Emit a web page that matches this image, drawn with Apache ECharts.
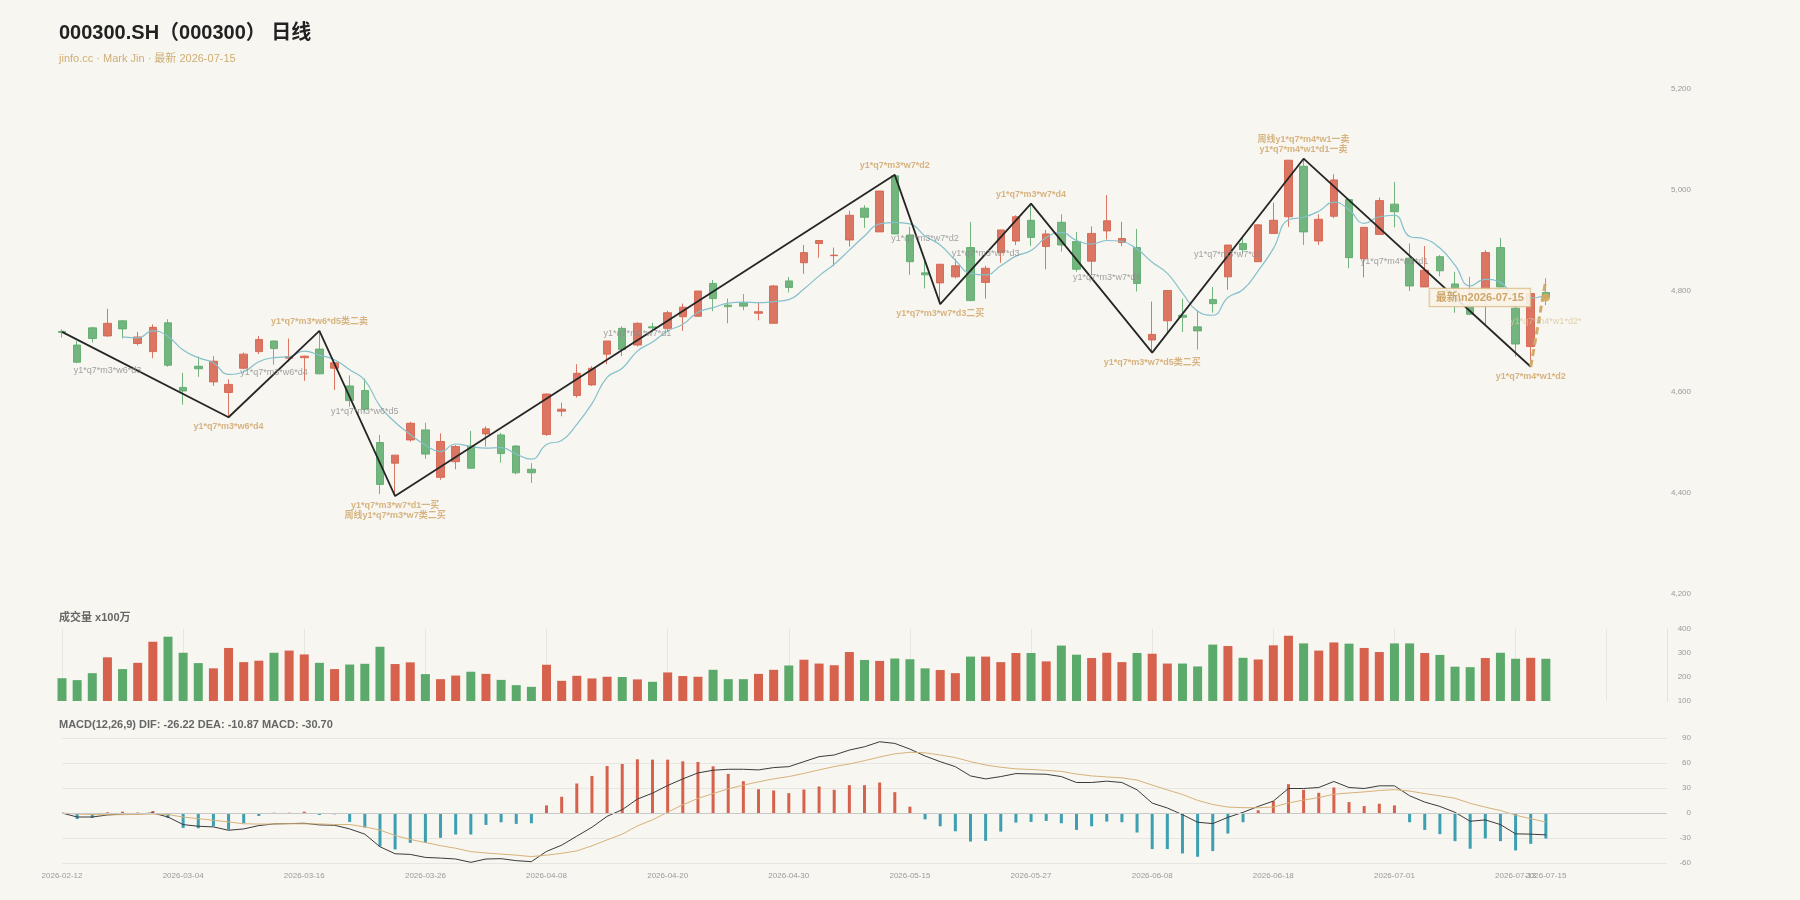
<!DOCTYPE html>
<html lang="zh-CN">
<head>
    <meta charset="UTF-8">
    <title>000300.SH 日线</title>
    <style>
        html, body { margin: 0; padding: 0; background: #f7f6f1; }
        #main { width: 1800px; height: 900px; }
    </style>
</head>
<body>
<div id="main"></div>
<script src="https://cdn.jsdelivr.net/npm/echarts@6/dist/echarts.min.js"></script>
<script>
    // 交易日
    const dates = [
        '2026-02-12', '2026-02-13', '2026-02-24', '2026-02-25', '2026-02-26', '2026-02-27', '2026-03-02', '2026-03-03',
        '2026-03-04', '2026-03-05', '2026-03-06', '2026-03-09', '2026-03-10', '2026-03-11', '2026-03-12', '2026-03-13',
        '2026-03-16', '2026-03-17', '2026-03-18', '2026-03-19', '2026-03-20', '2026-03-23', '2026-03-24', '2026-03-25',
        '2026-03-26', '2026-03-27', '2026-03-30', '2026-03-31', '2026-04-01', '2026-04-02', '2026-04-03', '2026-04-07',
        '2026-04-08', '2026-04-09', '2026-04-10', '2026-04-13', '2026-04-14', '2026-04-15', '2026-04-16', '2026-04-17',
        '2026-04-20', '2026-04-21', '2026-04-22', '2026-04-23', '2026-04-24', '2026-04-27', '2026-04-28', '2026-04-29',
        '2026-04-30', '2026-05-06', '2026-05-07', '2026-05-08', '2026-05-11', '2026-05-12', '2026-05-13', '2026-05-14',
        '2026-05-15', '2026-05-18', '2026-05-19', '2026-05-20', '2026-05-21', '2026-05-22', '2026-05-25', '2026-05-26',
        '2026-05-27', '2026-05-28', '2026-05-29', '2026-06-01', '2026-06-02', '2026-06-03', '2026-06-04', '2026-06-05',
        '2026-06-08', '2026-06-09', '2026-06-10', '2026-06-11', '2026-06-12', '2026-06-15', '2026-06-16', '2026-06-17',
        '2026-06-18', '2026-06-22', '2026-06-23', '2026-06-24', '2026-06-25', '2026-06-26', '2026-06-29', '2026-06-30',
        '2026-07-01', '2026-07-02', '2026-07-03', '2026-07-06', '2026-07-07', '2026-07-08', '2026-07-09', '2026-07-10',
        '2026-07-13', '2026-07-14', '2026-07-15'
    ];
    // 右侧留白的空类目
    const blankSlots = 8;

    // K线 开 收 低 高
    const opens = [
        4720, 4693, 4727, 4711, 4741, 4696, 4680, 4737, 4609, 4651, 4620, 4599, 4647, 4680, 4701, 4667, 4668, 4685, 4647, 4612,
        4603, 4500, 4459, 4505, 4525, 4431, 4462, 4493, 4517, 4515, 4493, 4447, 4516, 4562, 4593, 4614, 4675, 4726, 4693, 4729,
        4726, 4749, 4750, 4815, 4772, 4777, 4756, 4736, 4820, 4856, 4894, 4870, 4901, 4964, 4917, 5028, 4911, 4836, 4816, 4828,
        4886, 4817, 4876, 4899, 4940, 4888, 4936, 4898, 4859, 4919, 4896, 4886, 4703, 4741, 4752, 4729, 4783, 4828, 4894, 4858,
        4914, 4947, 5047, 4899, 4948, 4981, 4864, 4912, 4972, 4865, 4808, 4868, 4814, 4772, 4802, 4886, 4766, 4690, 4797
    ];
    const closes = [
        4718, 4659, 4706, 4736, 4725, 4709, 4728, 4653, 4602, 4646, 4661, 4615, 4675, 4704, 4686, 4670, 4671, 4636, 4658, 4583,
        4566, 4417, 4475, 4538, 4477, 4502, 4492, 4449, 4527, 4478, 4440, 4440, 4596, 4566, 4637, 4647, 4701, 4684, 4736, 4727,
        4757, 4768, 4800, 4785, 4769, 4770, 4759, 4810, 4807, 4876, 4900, 4871, 4950, 4946, 4998, 4913, 4858, 4832, 4853, 4850,
        4781, 4845, 4921, 4947, 4906, 4913, 4891, 4843, 4914, 4939, 4904, 4815, 4714, 4801, 4748, 4721, 4775, 4891, 4882, 4931,
        4940, 5059, 4917, 4942, 5020, 4866, 4926, 4979, 4957, 4810, 4841, 4840, 4805, 4754, 4876, 4808, 4695, 4795, 4787
    ];
    const lows = [
        4708, 4657, 4698, 4709, 4706, 4692, 4667, 4650, 4575, 4630, 4612, 4550, 4645, 4675, 4654, 4660, 4622, 4635, 4604, 4571,
        4561, 4398, 4394, 4502, 4468, 4426, 4447, 4448, 4492, 4460, 4437, 4420, 4513, 4552, 4589, 4612, 4655, 4671, 4690, 4719,
        4719, 4721, 4749, 4760, 4736, 4762, 4742, 4736, 4797, 4834, 4866, 4849, 4888, 4925, 4917, 4912, 4832, 4805, 4774, 4825,
        4780, 4785, 4856, 4891, 4889, 4843, 4878, 4838, 4831, 4902, 4889, 4799, 4678, 4715, 4719, 4684, 4757, 4802, 4874, 4858,
        4914, 4927, 4891, 4891, 4944, 4845, 4827, 4912, 4926, 4800, 4808, 4829, 4757, 4752, 4734, 4808, 4670, 4650, 4772
    ];
    const highs = [
        4724, 4701, 4729, 4765, 4742, 4719, 4734, 4744, 4638, 4670, 4671, 4625, 4678, 4711, 4702, 4706, 4672, 4721, 4658, 4633,
        4627, 4515, 4475, 4541, 4539, 4518, 4495, 4523, 4532, 4519, 4495, 4459, 4597, 4579, 4655, 4651, 4701, 4730, 4738, 4737,
        4761, 4775, 4800, 4822, 4785, 4794, 4777, 4812, 4828, 4891, 4901, 4886, 4959, 4970, 4998, 5030, 4927, 4864, 4853, 4864,
        4937, 4850, 4921, 4950, 4973, 4921, 4952, 4917, 4928, 4990, 4937, 4923, 4779, 4802, 4785, 4762, 4808, 4891, 4907, 4932,
        4975, 5059, 5062, 4952, 5031, 4981, 4926, 4985, 5016, 4894, 4889, 4871, 4838, 4828, 4881, 4905, 4769, 4795, 4825
    ];
    // MA5，前4日无值
    const ma5 = [
        '-', '-', '-', '-',
        4709, 4707, 4721, 4710, 4683, 4668, 4658, 4635, 4640, 4660,
        4668, 4670, 4681, 4673, 4664, 4644, 4623, 4572, 4540, 4516,
        4495, 4482, 4497, 4492, 4489, 4490, 4477, 4467, 4496, 4504,
        4536, 4577, 4629, 4647, 4681, 4699, 4721, 4734, 4758, 4767,
        4776, 4778, 4777, 4779, 4783, 4804, 4830, 4853, 4881, 4909,
        4933, 4936, 4933, 4909, 4891, 4861, 4835, 4832, 4850, 4869,
        4880, 4906, 4916, 4900, 4893, 4900, 4898, 4883, 4857, 4835,
        4796, 4760, 4752, 4787, 4803, 4840, 4884, 4941, 4946, 4958,
        4976, 4961, 4934, 4947, 4950, 4908, 4903, 4885, 4851, 4810,
        4823, 4817, 4788, 4786, 4792
    ];
    // 成交量 x100万
    const volumes = [
        195, 187, 216, 282, 233, 259, 347, 368, 301, 258, 236, 321, 262, 268, 301, 310, 294, 259, 233, 252,
        255, 326, 254, 261, 212, 191, 206, 222, 213, 188, 166, 159, 251, 184, 205, 194, 201, 200, 190, 180,
        219, 204, 201, 230, 191, 191, 213, 230, 248, 272, 256, 249, 304, 271, 267, 277, 274, 236, 229, 216,
        285, 285, 262, 300, 300, 265, 331, 293, 279, 301, 262, 300, 297, 256, 256, 244, 335, 329, 280, 273,
        332, 372, 340, 310, 344, 339, 321, 304, 340, 340, 300, 292, 243, 241, 279, 301, 276, 280, 276
    ];
    // MACD
    const dif = [
        0, -4.8, -4.8, -2.4, -1.2, -1.2, 0, -4.8, -13.9, -15.9, -16.7, -20.7, -19.1, -15.1, -13.1, -12.7, -12.3, -14.3, -14.7, -19.1,
        -25.4, -40.5, -48.9, -49.7, -53.3, -54.1, -55.2, -59.2, -55.2, -54.8, -57.2, -58.4, -46.1, -38.6, -27.8, -17.1, -4, 4, 16.7, 23.8,
        33, 40.9, 48.1, 51.3, 52.5, 52.5, 51.7, 54.5, 55.6, 61.6, 67.6, 69.6, 75.5, 79.5, 85.5, 83.5, 76.7, 68.4, 61.6, 55.6,
        44.5, 40.9, 43.7, 47.3, 46.9, 46.5, 43.7, 36.6, 36.6, 38.2, 36.6, 27.8, 11.9, 6, -2, -11.1, -12.7, -5.2, 0.8, 7.9,
        14.3, 29.4, 29.4, 30.6, 37.8, 30.6, 29.4, 32.6, 32.6, 20.7, 13.1, 7.9, 0.8, -9.9, -8.3, -13.9, -25, -25.4, -26.22
    ];
    const dea = [
        0, -1.2, -1.8, -2.2, -2.0, -1.6, -1.2, -1.8, -4.9, -6.8, -8.7, -10.7, -12.9, -13.3, -13.2, -12.9, -13.1, -13.1, -13.9, -13.8,
        -16.7, -20.5, -27, -31.8, -35.4, -39.2, -42.3, -46.3, -48, -49.3, -50.6, -52.3, -50.6, -48.4, -45.5, -39.4, -32.2, -25.4, -15.5, -8.2,
        1, 9.9, 17.5, 23.3, 29, 33.4, 37.4, 41, 43.7, 47.5, 51.7, 55.7, 58.8, 62.8, 67.2, 71, 72.9, 72.2, 69.6, 66.5,
        61.6, 57.6, 54.9, 53, 52.2, 51.2, 49.9, 46.8, 44.5, 43.3, 42.2, 39.5, 33.5, 27.7, 22.2, 15.2, 10.2, 7.1, 6.4, 6.3,
        7.2, 12.1, 15.5, 18.5, 22.5, 24, 25.3, 27, 28, 26.3, 23.3, 20.6, 17.7, 11.6, 7, 3, -2.6, -6.9, -10.87
    ];
    const macdBar = [
        0, -7.2, -6, 0.8, 1.6, 0.5, 2.4, -6, -17.9, -18.3, -15.9, -19.9, -12.3, -3.6, 0.3, 0.4, 1.6, -2.4, -1.6, -10.7,
        -17.5, -40.1, -43.7, -35.8, -35.8, -29.8, -25.8, -25.8, -14.3, -11.1, -13.1, -12.3, 9.1, 19.5, 35.4, 44.5, 56.4, 58.8, 64.4, 64,
        64, 62, 61.2, 56, 46.9, 38.2, 28.6, 27, 23.8, 28.2, 31.8, 27.8, 33.4, 33.4, 36.6, 25, 7.6, -7.6, -15.9, -21.9,
        -34.2, -33.4, -22.3, -11.5, -10.7, -9.5, -12.3, -20.3, -15.9, -10.3, -11.1, -23.4, -43.3, -43.3, -48.5, -52.5, -45.7, -24.6, -11.1, 3.2,
        14.3, 34.6, 27.8, 24.2, 30.6, 13.1, 8.3, 11.1, 9.1, -11.1, -20.3, -25.4, -33.8, -42.9, -30.6, -33.8, -44.9, -37, -30.7
    ];

    // 笔：转折点 [序号, 价格]
    const strokes = [[0, 4719], [11, 4550], [17, 4721], [22, 4394], [55, 5030], [58, 4774], [64, 4973], [72, 4678], [82, 5062], [97, 4650]];
    // 未完成的一笔
    const pendingStroke = [[97, 4650], [98, 4822]];
    // 转折点标注（对应 strokes 的第1..9个点）
    const pivotNames = [
        'y1*q7*m3*w6*d4',
        'y1*q7*m3*w6*d5类二卖',
        'y1*q7*m3*w7*d1一买\n周线y1*q7*m3*w7类二买',
        'y1*q7*m3*w7*d2',
        'y1*q7*m3*w7*d3二买',
        'y1*q7*m3*w7*d4',
        'y1*q7*m3*w7*d5类二买',
        '周线y1*q7*m4*w1一卖\ny1*q7*m4*w1*d1一卖',
        'y1*q7*m4*w1*d2'
    ];
    // 每一笔的名称 [序号, 价格, 名称]
    const strokeNames = [
        [3, 4643, 'y1*q7*m3*w6*d3'],
        [13.9, 4638, 'y1*q7*m3*w6*d4'],
        [19.9, 4561, 'y1*q7*m3*w6*d5'],
        [37.9, 4715, 'y1*q7*m3*w7*d1'],
        [56.9, 4904, 'y1*q7*m3*w7*d2'],
        [61, 4875, 'y1*q7*m3*w7*d3'],
        [69, 4827, 'y1*q7*m3*w7*d4'],
        [76.9, 4872, 'y1*q7*m3*w7*d5'],
        [87.9, 4858, 'y1*q7*m4*w1*d1']
    ];
    const pendingName = [97.9, 4740, 'y1*q7*m4*w1*d2*'];

    const UP = '#d6614c';
    const DOWN = '#5caa6b';
    const MACD_DOWN = '#3d9fb2';
    const GOLD = '#cfa264';
    const FONT = "'Liberation Sans', 'Noto Sans CJK SC', sans-serif";

    const last = dates.length - 1;
    const categories = dates.concat(new Array(blankSlots).fill(''));
    const kData = dates.map((d, i) => [opens[i], closes[i], lows[i], highs[i]]);
    const volData = volumes.map((v, i) => ({
        value: v,
        itemStyle: {color: closes[i] >= opens[i] ? UP : DOWN}
    }));
    const macdData = macdBar.map(v => ({value: v, itemStyle: {color: v >= 0 ? UP : MACD_DOWN}}));

    const pivotData = pivotNames.map((name, k) => {
        let p = strokes[k + 1];
        let isHigh = p[1] > strokes[k][1];
        return {
            value: [p[0], p[1]],
            name: name,
            label: {position: isHigh ? 'top' : 'bottom'}
        };
    });

    const axisText = {color: '#9a9a9a', fontSize: 8, fontFamily: FONT};

    let xAxisBase = (gi) => ({
        type: 'category',
        gridIndex: gi,
        data: categories,
        boundaryGap: false,
        axisLine: {show: false},
        axisTick: {show: false},
        axisLabel: {show: false},
        splitLine: {show: false}
    });

    let xVol = xAxisBase(1);
    xVol.splitLine = {
        show: true,
        interval: (i) => (i % 8 === 0 && i <= 96) || i === 102,
        lineStyle: {color: '#e7e5e0', width: 1}
    };
    let xMacd = xAxisBase(2);
    xMacd.axisLabel = Object.assign({
        show: true,
        margin: 9,
        interval: (i) => i % 8 === 0 || i === last
    }, axisText);

    let myChart = echarts.init(document.getElementById('main'), null, {renderer: 'canvas'});
    let option = {
        backgroundColor: '#f7f6f1',
        animation: false,
        textStyle: {fontFamily: FONT},
        title: [
            {
                text: '000300.SH（000300） 日线',
                subtext: 'jinfo.cc · Mark Jin · 最新 ' + dates[last],
                left: 59, top: 23, padding: 0, itemGap: 10,
                textStyle: {fontSize: 20, fontWeight: 'bold', color: '#222', fontFamily: FONT},
                subtextStyle: {fontSize: 11, color: '#cfae76', fontFamily: FONT}
            },
            {
                text: '成交量 x100万',
                left: 59, top: 612, padding: 0,
                textStyle: {fontSize: 11, fontWeight: 'bold', color: '#666', fontFamily: FONT}
            },
            {
                text: 'MACD(12,26,9) DIF: ' + dif[last].toFixed(2) + ' DEA: ' + dea[last].toFixed(2) +
                    ' MACD: ' + macdBar[last].toFixed(2),
                left: 59, top: 719, padding: 0,
                textStyle: {fontSize: 11, fontWeight: 'bold', color: '#666', fontFamily: FONT}
            }
        ],
        grid: [
            {left: 62, right: 133, top: 89, height: 505},
            {left: 62, right: 133, top: 629, height: 72},
            {left: 62, right: 133, top: 738, height: 125}
        ],
        xAxis: [xAxisBase(0), xVol, xMacd],
        yAxis: [
            {
                gridIndex: 0, position: 'right', min: 4200, max: 5200, interval: 200,
                axisLine: {show: false}, axisTick: {show: false}, splitLine: {show: false},
                axisLabel: Object.assign({align: 'right', margin: 24}, axisText)
            },
            {
                gridIndex: 1, position: 'right', min: 100, max: 400, interval: 100,
                axisLine: {show: true, lineStyle: {color: '#e4e2dd'}}, axisTick: {show: false}, splitLine: {show: false},
                axisLabel: Object.assign({align: 'right', margin: 24}, axisText)
            },
            {
                gridIndex: 2, position: 'right', min: -60, max: 90, interval: 30,
                axisLine: {show: false}, axisTick: {show: false},
                splitLine: {show: true, lineStyle: {color: '#e8e6e1'}},
                axisLabel: Object.assign({align: 'right', margin: 24}, axisText)
            }
        ],
        series: [
            {
                name: 'K线', type: 'candlestick', xAxisIndex: 0, yAxisIndex: 0,
                data: kData, barWidth: 8,
                itemStyle: {color: UP, color0: DOWN, borderColor: UP, borderColor0: DOWN, opacity: 0.86}
            },
            {
                name: 'MA5', type: 'line', xAxisIndex: 0, yAxisIndex: 0,
                data: ma5, smooth: true, symbol: 'none',
                lineStyle: {color: '#84c0cb', width: 1.2}
            },
            {
                name: '笔', type: 'line', xAxisIndex: 0, yAxisIndex: 0,
                data: strokes, symbol: 'none', z: 5,
                lineStyle: {color: '#262626', width: 1.8}
            },
            {
                name: '未完成', type: 'line', xAxisIndex: 0, yAxisIndex: 0,
                data: pendingStroke, symbol: 'none', z: 5,
                lineStyle: {color: '#d2aa6a', width: 3, type: [7, 4]}
            },
            {
                name: '笔名', type: 'scatter', xAxisIndex: 0, yAxisIndex: 0,
                symbolSize: 1, itemStyle: {color: 'rgba(0,0,0,0)'}, z: 6, silent: true,
                data: strokeNames.map(s => ({value: [s[0], s[1]], name: s[2]})).concat([{
                    value: [pendingName[0], pendingName[1]], name: pendingName[2],
                    label: {color: '#dcc79c'}
                }]),
                label: {show: true, position: 'inside', formatter: '{b}', color: '#8b8b8b', fontSize: 9, fontFamily: FONT}
            },
            {
                name: '转折', type: 'scatter', xAxisIndex: 0, yAxisIndex: 0,
                symbolSize: 1, itemStyle: {color: 'rgba(0,0,0,0)'}, z: 6, silent: true,
                data: pivotData,
                label: {
                    show: true, formatter: '{b}', distance: 4, color: GOLD,
                    fontSize: 9, lineHeight: 10, fontWeight: 'bold', fontFamily: FONT
                }
            },
            {
                name: '最新', type: 'scatter', xAxisIndex: 0, yAxisIndex: 0,
                data: [[last, closes[last]]], symbolSize: 8, z: 7,
                itemStyle: {color: '#d3a862', opacity: 0.9},
                label: {
                    show: true, position: 'left', distance: 12,
                    formatter: '最新\\n' + dates[last],
                    color: '#c99c5a', fontSize: 11, fontWeight: 'bold', fontFamily: FONT,
                    backgroundColor: '#f8f3e8', borderColor: '#dcc493', borderWidth: 1.2,
                    padding: [3, 6]
                }
            },
            {
                name: '成交量', type: 'bar', xAxisIndex: 1, yAxisIndex: 1,
                data: volData, barWidth: 9
            },
            {
                name: 'MACD', type: 'bar', xAxisIndex: 2, yAxisIndex: 2,
                data: macdData, barWidth: 3,
                markLine: {
                    silent: true, symbol: ['none', 'none'], label: {show: false},
                    lineStyle: {color: '#c8c8c8', type: 'solid', width: 1},
                    data: [{yAxis: 0}]
                }
            },
            {
                name: 'DIF', type: 'line', xAxisIndex: 2, yAxisIndex: 2,
                data: dif, symbol: 'none', lineStyle: {color: '#3a3a3a', width: 1}
            },
            {
                name: 'DEA', type: 'line', xAxisIndex: 2, yAxisIndex: 2,
                data: dea, symbol: 'none', lineStyle: {color: '#d8b27a', width: 1}
            }
        ]
    };
    myChart.setOption(option);
</script>
</body>
</html>
